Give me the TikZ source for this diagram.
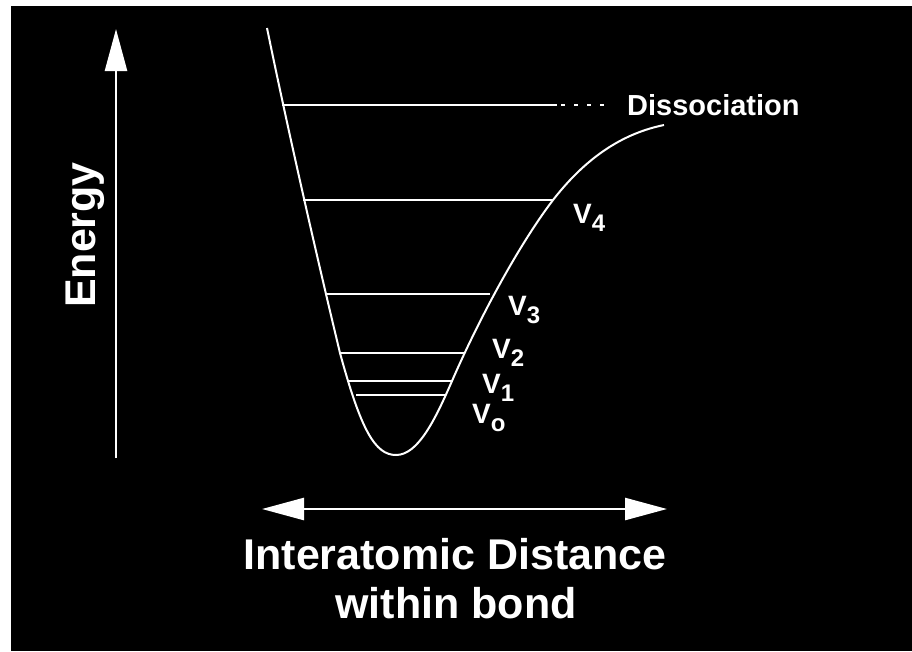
\documentclass[tikz,border=0pt]{standalone}
\usepackage{fontspec}
\setmainfont{Liberation Sans}
\usetikzlibrary{arrows.meta}

\newcommand{\vlev}[1]{V\raisebox{-8pt}{\fontsize{24}{24}\selectfont #1}}

\begin{document}
\begin{tikzpicture}[
      x=1pt, y=-1pt,
      >={Triangle[length=42pt, width=22pt]},
      axis/.style={->, line width=2.5pt, white},
      level/.style={line width=2pt, white},
      curve/.style={line width=2pt, white},
      axislabel/.style={text=white, inner sep=0pt, font=\fontsize{43}{49}\selectfont\bfseries},
      vlabel/.style={text=white, inner sep=0pt, anchor=base west, font=\fontsize{28}{30}\selectfont\bfseries}
    ]

    \useasboundingbox (0,0) rectangle (912,651);
    \fill[white] (0,0) rectangle (912,651);
    \fill[black] (11,6) rectangle (912,651);

    % potential well
    \coordinate (wtop) at (267,28);
    \coordinate (wbot) at (396,455);
    \coordinate (wend) at (664,125);
    \draw[curve] (wtop) .. controls (290,140) and (320,270) .. (340,353)
      .. controls (361,430) and (375,455) .. (wbot)
      .. controls (418,455) and (435,420) .. (452,381)
      .. controls (475,328) and (515,250) .. (553,200)
      .. controls (588,155) and (625,133) .. (wend);

    % level end points
    \coordinate (dl) at (282,105);
    \coordinate (dr) at (557,105);
    \coordinate (ds) at (561,105);
    \coordinate (de) at (606,105);
    \coordinate (v4l) at (303,200);
    \coordinate (v4r) at (553,200);
    \coordinate (v3l) at (325,294);
    \coordinate (v3r) at (490,294);
    \coordinate (v2l) at (340,353);
    \coordinate (v2r) at (465,353);
    \coordinate (v1l) at (348,381);
    \coordinate (v1r) at (452,381);
    \coordinate (v0l) at (356,395);
    \coordinate (v0r) at (445,395);

    \draw[level] (dl) -- (dr);
    \draw[level, dash pattern=on 4pt off 9pt] (ds) -- (de);
    \draw[level] (v4l) -- (v4r);
    \draw[level] (v3l) -- (v3r);
    \draw[level] (v2l) -- (v2r);
    \draw[level] (v1l) -- (v1r);
    \draw[level] (v0l) -- (v0r);

    \node[vlabel, font=\fontsize{29}{32}\selectfont\bfseries] (dissoc) at (627,115) {Dissociation};
    \node[vlabel] (lab4) at (573,223) {\vlev{4}};
    \node[vlabel] (lab3) at (508,315) {\vlev{3}};
    \node[vlabel] (lab2) at (492,358) {\vlev{2}};
    \node[vlabel] (lab1) at (482,393) {\vlev{1}};
    \node[vlabel] (lab0) at (472,423) {\vlev{o}};

    % axes
    \coordinate (ebot) at (116,458);
    \coordinate (etop) at (116,29);
    \coordinate (xleft) at (262,509);
    \coordinate (xright) at (667,509);
    \draw[axis] (ebot) -- (etop);
    \draw[axis, <->] (xleft) -- (xright);

    \node[axislabel, rotate=90, anchor=base] (energy) at (95,235) {Energy};
    \node[axislabel, anchor=base] (dist1) at (455,569) {Interatomic Distance};
    \node[axislabel, anchor=base] (dist2) at (456,618) {within bond};

  \end{tikzpicture}
\end{document}
